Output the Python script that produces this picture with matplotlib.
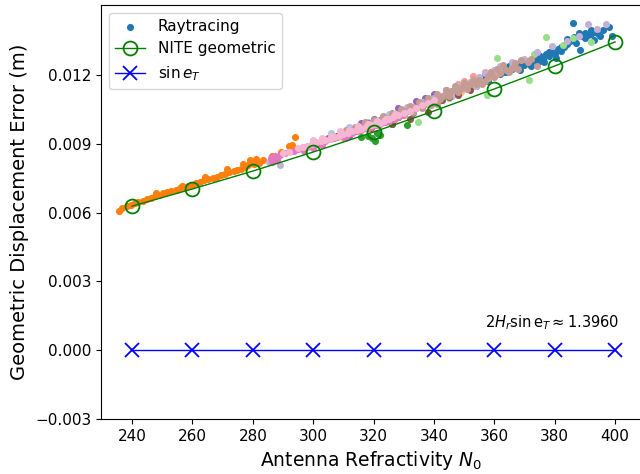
import numpy as np
import matplotlib.pyplot as plt

# 天線の屈折率 N0 に対する幾何変位誤差
N0_grid = [240, 260, 280, 300, 320, 340, 360, 380, 400]
nite_geo = [0.00628, 0.00703, 0.00781, 0.00864, 0.00951, 0.01043, 0.01139, 0.01239, 0.01344]
sin_eT = [0.0, 0.0, 0.0, 0.0, 0.0, 0.0, 0.0, 0.0, 0.0]

# レイトレーシング結果（グループごと）
rt_blue_x = [346, 349, 352, 354, 356, 358, 359, 360, 361, 362, 363, 364, 365, 366, 367, 368,
             369, 370, 371, 372, 373, 374, 375, 376, 377, 378, 379, 380, 381, 382, 383, 384,
             385, 386, 386.5, 387, 388, 388.5, 389, 390, 391, 392, 393, 394, 396, 398, 399,
             380.5, 376.5, 368.5, 355, 357, 363, 366, 372, 375, 378, 382, 384, 390, 392, 395]
rt_blue_y = [0.01128, 0.01142, 0.01160, 0.01150, 0.01185, 0.01172, 0.01213, 0.01195, 0.01220,
             0.01205, 0.01230, 0.01212, 0.01238, 0.01225, 0.01248, 0.01232, 0.01258, 0.01245,
             0.01262, 0.01255, 0.01275, 0.01262, 0.01284, 0.01270, 0.01290, 0.01282, 0.01300,
             0.01292, 0.01312, 0.01305, 0.01322, 0.01335, 0.01348, 0.01427, 0.01365, 0.01340,
             0.01383, 0.01309, 0.01372, 0.01360, 0.01375, 0.01378, 0.01352, 0.01383, 0.01395,
             0.01409, 0.01372, 0.01275, 0.01258, 0.01222, 0.01165, 0.01195, 0.01215, 0.01245,
             0.01238, 0.01262, 0.01298, 0.01322, 0.01355, 0.01385, 0.01398, 0.01372]

rt_lblue_x = [306, 312, 318, 325, 330]
rt_lblue_y = [0.00945, 0.00972, 0.00995, 0.01030, 0.01045]

rt_orange_x = [235.5, 236.8, 238.2, 239.5, 240.8, 242.0, 243.5, 244.9, 246.3, 247.5, 249.0,
               250.4, 251.7, 253.0, 254.6, 255.8, 257.3, 258.5, 259.9, 261.2, 262.6, 263.9,
               265.2, 266.8, 268.0, 269.5, 270.8, 272.1, 273.6, 274.9, 276.2, 277.5, 278.3,
               279.0, 279.8, 280.5, 281.2, 282.0, 276.8, 278.9, 280.9, 283.5, 286.4, 289.4,
               292.0, 294.0, 293.0, 248.0, 256.5, 264.0, 271.5]
rt_orange_y = [0.00608, 0.00620, 0.00628, 0.00635, 0.00640, 0.00648, 0.00652, 0.00660, 0.00665,
               0.00672, 0.00676, 0.00684, 0.00688, 0.00695, 0.00700, 0.00706, 0.00712, 0.00718,
               0.00722, 0.00728, 0.00735, 0.00740, 0.00745, 0.00752, 0.00757, 0.00762, 0.00770,
               0.00776, 0.00780, 0.00786, 0.00792, 0.00798, 0.00808, 0.00815, 0.00820, 0.00812,
               0.00825, 0.00818, 0.00812, 0.00830, 0.00835, 0.00830, 0.00847, 0.00864, 0.00890,
               0.00929, 0.00895, 0.00685, 0.00718, 0.00755, 0.00788]

rt_lorange_x = [302, 310, 318, 325, 328, 333, 338, 344, 349, 355, 358, 362]
rt_lorange_y = [0.00905, 0.00925, 0.00960, 0.01000, 0.01015, 0.01060, 0.01075, 0.01115,
                0.01125, 0.01180, 0.01190, 0.01215]

rt_green_x = [316, 318, 319.5, 320.5, 321, 322, 326, 331]
rt_green_y = [0.00930, 0.00935, 0.00925, 0.00912, 0.00945, 0.00940, 0.00985, 0.00982]

rt_lgreen_x = [334.7, 345, 352, 357.6, 361, 366, 371.5, 373, 377, 382.8, 386, 392]
rt_lgreen_y = [0.00995, 0.01100, 0.01148, 0.01113, 0.01274, 0.01235, 0.01178, 0.01290,
               0.01366, 0.01331, 0.01362, 0.01345]

rt_red_x = [300, 308, 314, 319, 322, 328]
rt_red_y = [0.00895, 0.00935, 0.00955, 0.00970, 0.00995, 0.01018]

rt_salmon_x = [321, 325, 329, 332, 336, 337, 339, 342, 344, 346, 348, 349, 350, 352, 353,
               355, 357, 358, 361]
rt_salmon_y = [0.00985, 0.01005, 0.01028, 0.01045, 0.01068, 0.01095, 0.01085, 0.01105,
               0.01130, 0.01120, 0.01160, 0.01140, 0.01175, 0.01155, 0.01195, 0.01175,
               0.01215, 0.01188, 0.01205]

rt_purple_x = [305, 310, 312, 314, 316, 318, 320, 322, 324, 326, 328, 329, 332, 333, 334,
               335, 337, 338, 340, 341, 343, 344]
rt_purple_y = [0.00925, 0.00945, 0.00935, 0.00965, 0.00990, 0.00990, 0.01010, 0.01005,
               0.01000, 0.01020, 0.01055, 0.01040, 0.01050, 0.01035, 0.01085, 0.01065,
               0.01100, 0.01080, 0.01118, 0.01095, 0.01110, 0.01135]

rt_lpurple_x = [285.5, 289, 331, 336, 340, 344, 346, 348, 352, 354, 355, 357, 360, 362,
                366, 370, 374, 379, 384, 388, 391, 394, 397]
rt_lpurple_y = [0.00822, 0.00808, 0.01060, 0.01082, 0.01100, 0.01128, 0.01110, 0.01150,
                0.01170, 0.01150, 0.01190, 0.01210, 0.01222, 0.01240, 0.01255, 0.01268,
                0.01300, 0.01325, 0.01350, 0.01368, 0.01420, 0.01400, 0.01420]

rt_brown_x = [321, 324, 326, 327, 330, 332, 333, 336, 338, 339, 342, 342.7, 345, 348, 352]
rt_brown_y = [0.00985, 0.01000, 0.00985, 0.01015, 0.01030, 0.01010, 0.01048, 0.01060,
              0.01040, 0.01075, 0.01090, 0.01091, 0.01105, 0.01113, 0.01135]

rt_lbrown_x = [306, 308, 310, 311, 312, 313, 314, 315, 316, 317, 318, 319, 320, 321, 322,
               323, 324, 325, 326, 327, 328, 329, 329, 330, 331, 332, 333, 334, 335, 336,
               337, 338, 339, 340, 341, 341, 342, 343, 344, 345, 346, 347, 348, 349, 350,
               351, 352, 353, 354, 355, 356, 357, 358, 359, 360, 361, 362, 363, 364, 365,
               366, 367, 368, 369, 371, 372, 374]
rt_lbrown_y = [0.00925, 0.00930, 0.00945, 0.00962, 0.00948, 0.00960, 0.00975, 0.00958,
               0.00972, 0.00995, 0.00970, 0.00985, 0.01005, 0.00982, 0.00998, 0.01020,
               0.00995, 0.01012, 0.01035, 0.01010, 0.01028, 0.01050, 0.01028, 0.01025,
               0.01045, 0.01065, 0.01040, 0.01058, 0.01080, 0.01055, 0.01075, 0.01098,
               0.01070, 0.01092, 0.01115, 0.01075, 0.01095, 0.01110, 0.01135, 0.01108,
               0.01128, 0.01150, 0.01125, 0.01145, 0.01165, 0.01140, 0.01162, 0.01180,
               0.01160, 0.01180, 0.01160, 0.01175, 0.01195, 0.01215, 0.01192, 0.01228,
               0.01210, 0.01245, 0.01222, 0.01212, 0.01230, 0.01250, 0.01228, 0.01265,
               0.01255, 0.01270, 0.01238]

rt_pink_x = [286, 286.5, 287.5, 288, 289, 290.5, 292, 293.5, 295, 296.5, 297, 298, 299.5,
             300, 301, 302.5, 303, 304, 305.5, 307, 308.5, 310, 310.5, 311.5, 313, 314.5,
             316, 317.5, 319, 320.5, 322, 323.5, 325, 326.5, 328, 329.5]
rt_pink_y = [0.00836, 0.00822, 0.00845, 0.00830, 0.00850, 0.00858, 0.00862, 0.00870, 0.00875,
             0.00884, 0.00868, 0.00888, 0.00896, 0.00882, 0.00900, 0.00908, 0.00895, 0.00912,
             0.00920, 0.00925, 0.00932, 0.00936, 0.00925, 0.00944, 0.00948, 0.00955, 0.00960,
             0.00968, 0.00972, 0.00980, 0.00986, 0.00994, 0.01000, 0.01010, 0.01015, 0.01025]

rt_lpink_x = [290, 292, 295, 296.5, 298, 299.5, 300, 301, 302.5, 303, 304, 305.5, 306, 307,
              308.5, 309, 310, 311.5, 312, 313, 314.5, 315, 316, 317.5, 318, 319, 320.5,
              321, 322, 323.5, 324, 325, 326.5, 327, 328, 330, 332, 334, 336, 338, 340]
rt_lpink_y = [0.00858, 0.00866, 0.00880, 0.00886, 0.00892, 0.00898, 0.00918, 0.00906, 0.00910,
              0.00925, 0.00918, 0.00922, 0.00935, 0.00930, 0.00935, 0.00955, 0.00942, 0.00948,
              0.00960, 0.00955, 0.00960, 0.00978, 0.00966, 0.00972, 0.00985, 0.00980, 0.00985,
              0.01000, 0.00992, 0.01000, 0.01010, 0.01008, 0.01015, 0.01030, 0.01025, 0.01035,
              0.01045, 0.01055, 0.01068, 0.01078, 0.01090]

groups = [
    (rt_blue_x, rt_blue_y), (rt_lblue_x, rt_lblue_y),
    (rt_orange_x, rt_orange_y), (rt_lorange_x, rt_lorange_y),
    (rt_green_x, rt_green_y), (rt_lgreen_x, rt_lgreen_y),
    (rt_red_x, rt_red_y), (rt_salmon_x, rt_salmon_y),
    (rt_purple_x, rt_purple_y), (rt_lpurple_x, rt_lpurple_y),
    (rt_brown_x, rt_brown_y), (rt_lbrown_x, rt_lbrown_y),
    (rt_pink_x, rt_pink_y), (rt_lpink_x, rt_lpink_y),
]

fig = plt.figure(figsize=(6.4, 4.74), dpi=100)
ax = fig.add_axes([101 / 640, 55 / 474, 540 / 640, 414 / 474])

cmap = plt.get_cmap('tab20')
for i, (gx, gy) in enumerate(groups):
    ax.scatter(gx, gy, s=26, color=cmap(i), linewidths=0,
               label='Raytracing' if i == 0 else None, zorder=2)

ax.plot(N0_grid, nite_geo, color='green', lw=1, marker='o', ms=10,
        mfc='none', mew=1.3, label='NITE geometric', zorder=3)
ax.plot(N0_grid, sin_eT, color='blue', lw=1, marker='x', ms=10,
        mew=1.3, label=r'$\sin e_T$', zorder=3)

ax.text(401.5, 0.0012, r'$2H_r\sin\mathrm{e}_T \approx 1.3960$',
        ha='right', va='center', fontsize=10.5)

ax.set_xlim(229.7, 408.6)
ax.set_ylim(-0.003, 0.01505)
ax.set_xticks(N0_grid)
ax.set_yticks([-0.003, 0.0, 0.003, 0.006, 0.009, 0.012])
ax.tick_params(labelsize=11)
ax.set_xlabel(r'Antenna Refractivity $N_0$', fontsize=13.5)
ax.set_ylabel('Geometric Displacement Error (m)', fontsize=14)
ax.legend(loc='upper left', fontsize=11)

fig.savefig('out.png', dpi=100)
